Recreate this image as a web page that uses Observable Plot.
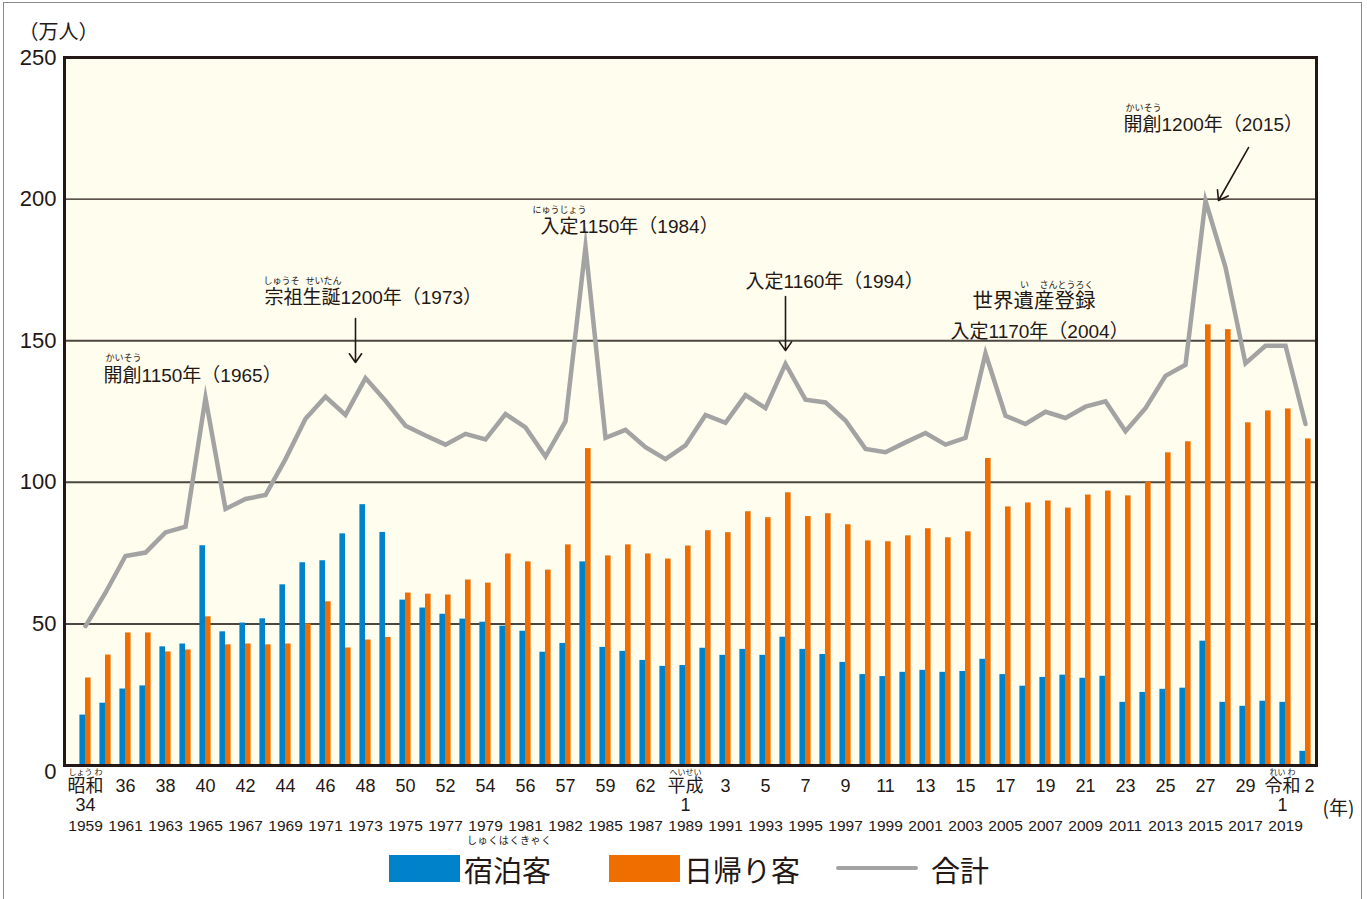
<!DOCTYPE html>
<html>
<head>
<meta charset="utf-8">
<script src="https://cdn.jsdelivr.net/npm/d3@7"></script>
<script src="https://cdn.jsdelivr.net/npm/@observablehq/plot@0.6"></script>
<style>
  html, body { margin: 0; padding: 0; background: #fff; }
  #wrap { position: relative; width: 1367px; height: 899px; overflow: hidden;
          font-family: "Liberation Sans", "Noto Sans CJK JP", sans-serif; color: #231815; }
  #border { position: absolute; left: 3px; top: 2px; width: 1359px; height: 910px; border: 1.5px solid #8a8a8a; box-sizing: border-box; pointer-events: none; }
  #chart { position: absolute; left: 0; top: 0; }
  #legend { position: absolute; left: 0; top: 840px; width: 1367px; height: 59px; }
  .sw { position: absolute; top: 15px; width: 71px; height: 27px; }
  .lt { position: absolute; top: 15px; font-size: 29px; line-height: 29px; font-family: "Noto Sans CJK JP", sans-serif; white-space: nowrap; }
  .rb { position: absolute; top: -7px; font-size: 10px; line-height: 14px; font-family: "Noto Sans CJK JP", sans-serif; letter-spacing: 0.6px; white-space: nowrap; }
</style>
</head>
<body>
<div id="wrap">
  <div id="chart"></div>
  <div id="legend"></div>
  <div id="border"></div>
</div>
<script>
// ---------------- data ----------------
const years = d3.range(1959, 2021);
// 宿泊客 (万人)
const stay = [17.8, 22.0, 27.0, 28.1, 41.9, 42.9, 77.6, 47.2, 50.3, 51.8,
              63.8, 71.6, 72.3, 81.8, 92.1, 82.3, 58.4, 55.6, 53.4, 51.7,
              50.6, 49.2, 47.4, 40.0, 43.1, 71.9, 41.7, 40.3, 37.1, 35.0,
              35.3, 41.4, 38.9, 41.0, 38.9, 45.3, 41.0, 39.2, 36.4, 32.1,
              31.4, 32.9, 33.6, 32.9, 33.2, 37.5, 32.1, 28.0, 31.1, 31.9,
              30.8, 31.5, 22.3, 25.8, 26.9, 27.3, 43.9, 22.3, 20.9, 22.7,
              22.3, 5.0];
// 日帰り客 (万人)
const day = [30.9, 39.0, 46.8, 46.8, 40.1, 40.8, 52.5, 42.6, 42.9, 42.6,
             42.9, 50.0, 57.8, 41.5, 44.3, 45.2, 60.9, 60.5, 60.2, 65.5,
             64.4, 74.7, 71.9, 69.0, 77.9, 111.9, 74.0, 77.9, 74.7, 72.9,
             77.5, 82.9, 82.2, 89.6, 87.5, 96.3, 87.9, 88.9, 85.0, 79.3,
             79.0, 81.1, 83.6, 80.4, 82.5, 108.4, 91.3, 92.7, 93.4, 90.9,
             95.5, 96.9, 95.2, 100.1, 110.4, 114.3, 155.6, 153.9, 121.0, 125.2,
             125.9, 115.3];
// 合計 (万人)
const total = [49.2, 61.0, 74.0, 75.2, 82.3, 84.3, 129.8, 90.6, 94.1, 95.5,
               108.2, 122.4, 130.2, 123.8, 136.8, 128.8, 120.0, 116.5, 113.3, 117.1,
               115.1, 124.1, 119.4, 109.1, 121.5, 183.2, 115.7, 118.5, 112.4, 108.2,
               113.0, 123.8, 121.0, 130.8, 126.2, 141.8, 129.2, 128.2, 121.8, 111.8,
               110.6, 114.1, 117.4, 113.3, 115.7, 145.5, 123.5, 120.6, 124.9, 122.7,
               126.7, 128.6, 118.0, 126.2, 137.6, 141.5, 199.4, 175.9, 142.0, 148.2,
               148.2, 120.6];

const yTicks = [50, 100, 150, 200, 250];
const tickYears = [1959, 1961, 1963, 1965, 1967, 1969, 1971, 1973, 1975, 1977, 1979, 1981,
                   1983, 1985, 1987, 1989, 1991, 1993, 1995, 1997, 1999, 2001, 2003, 2005,
                   2007, 2009, 2011, 2013, 2015, 2017, 2019, 2020];
const eraLabels = ["昭和", "36", "38", "40", "42", "44", "46", "48", "50", "52", "54", "56",
                   "57", "59", "62", "平成", "3", "5", "7", "9", "11", "13", "15", "17",
                   "19", "21", "23", "25", "27", "29", "令和", "2"];
const eraSecond = ["34", "", "", "", "", "", "", "", "", "", "", "",
                   "", "", "", "1", "", "", "", "", "", "", "", "",
                   "", "", "", "", "", "", "1", ""];
const eraRuby = ["しょう わ", "", "", "", "", "", "", "", "", "", "", "",
                 "", "", "", "へいせい", "", "", "", "", "", "", "", "",
                 "", "", "", "", "", "", "れい わ", ""];
const westLabels = ["1959", "1961", "1963", "1965", "1967", "1969", "1971", "1973", "1975", "1977", "1979", "1981",
                    "1982", "1985", "1987", "1989", "1991", "1993", "1995", "1997", "1999", "2001", "2003", "2005",
                    "2007", "2009", "2011", "2013", "2015", "2017", "2019", ""];

const eventYears = [1965, 1973, 1984, 1994, 2004, 2015];
const eventLabels = ["開創1150年（1965）", "宗祖生誕1200年（1973）", "入定1150年（1984）",
                     "入定1160年（1994）", "入定1170年（2004）", "開創1200年（2015）"];

// ---------------- build ----------------
const rows = years.map((y, i) => ({year: y, stay: stay[i], day: day[i], total: total[i]}));
const ticks = tickYears.map((y, i) => ({year: y, era: eraLabels[i], era2: eraSecond[i], ruby: eraRuby[i], west: westLabels[i]}));
const events = eventYears.map((y, i) => ({year: y, total: total[years.indexOf(y)], label: eventLabels[i]}));
const ev = y => events.filter(d => d.year === y);
const lastYear = years[years.length - 1];
const mainTicks = ticks.filter(d => d.year < lastYear - 1);
const reiwaTick = ticks.filter(d => d.year === lastYear - 1);
const endTick = ticks.filter(d => d.year === lastYear);

const BLUE = "#0082cb", ORANGE = "#ee6e00", GRAY = "#a3a3a3", INK = "#231815";
const JP = "'Liberation Sans', 'Noto Sans CJK JP', sans-serif";
const CJK = "'Noto Sans CJK JP', sans-serif";
const W = 0.28;

const annText = (y, text, dx, dy, opts = {}) => Plot.text(ev(y), {
  x: "year", y: "total", text: () => text, textAnchor: "start", lineAnchor: "middle", dx, dy,
  fontSize: 19, fill: INK, fontFamily: JP, ...opts
});
const ruby = (y, text, dx, dy) => Plot.text(ev(y), {
  x: "year", y: "total", text: () => text, textAnchor: "middle", lineAnchor: "middle", dx, dy,
  fontSize: 9, fill: INK, fontFamily: CJK
});
const xRow = (data, field, dy, opts = {}) => Plot.text(data, {
  x: "year", text: field, frameAnchor: "bottom", lineAnchor: "middle", dy, fontSize: 18, fill: INK, ...opts
});
const xRows = (data, dx) => [
  xRow(data, "ruby", 7, {fontSize: 8, fontFamily: CJK, dx}),
  xRow(data, "era", 21, {dx}),
  xRow(data, "era2", 40, {dx}),
  xRow(data, "west", 61, {fontSize: 15.5, ariaLabel: "west-year", dx: 0})
];

const chart = Plot.plot({
  width: 1367,
  height: 840,
  marginLeft: 64,
  marginRight: 51,
  marginTop: 57,
  marginBottom: 75,
  x: {domain: [1957.95, 2020.55], axis: null},
  y: {domain: [0, 250], axis: null},
  style: {fontFamily: JP, background: "transparent", color: INK},
  marks: [
    Plot.frame({fill: "#fffdee", stroke: "none"}),
    Plot.ruleY([50, 100, 150], {stroke: "#4d4641", strokeWidth: 2}),
    Plot.ruleY([200], {stroke: "#231815", strokeWidth: 1.3}),
    Plot.rectY(rows, {x1: d => d.year - W, x2: d => d.year, y: "stay", fill: BLUE}),
    Plot.rectY(rows, {x1: d => d.year, x2: d => d.year + W, y: "day", fill: ORANGE}),
    Plot.lineY(rows, {x: "year", y: "total", stroke: GRAY, strokeWidth: 4.5, strokeLinejoin: "miter", strokeMiterlimit: 12}),
    Plot.frame({stroke: INK, strokeWidth: 3}),
    // y axis
    Plot.axisY(yTicks, {tickSize: 0, tickPadding: 8, fontSize: 22, label: null, fill: INK, fontFamily: "'Liberation Sans', sans-serif"}),
    Plot.axisY([0], {tickSize: 0, tickPadding: 8, fontSize: 22, label: null, fill: INK, dy: 6, fontFamily: "'Liberation Sans', sans-serif"}),
    Plot.text(["（万人）"], {frameAnchor: "top-left", textAnchor: "start", lineAnchor: "middle", dx: -46, dy: -25, fontSize: 20, fill: INK, fontFamily: CJK}),
    Plot.text(["(年)"], {frameAnchor: "bottom-right", textAnchor: "middle", lineAnchor: "middle", dx: 22, dy: 43, fontSize: 19, fill: INK, fontFamily: CJK}),
    // x axis rows
    ...xRows(mainTicks, 0),
    ...xRows(reiwaTick, -3),
    ...xRows(endTick, 4),
    // annotations
    annText(1965, eventLabels[0], -102, -22),
    ruby(1965, "かいそう", -82, -40),
    annText(1973, eventLabels[1], -101, -80),
    ruby(1973, "しゅうそ", -84, -97),
    ruby(1973, "せいたん", -42, -97),
    Plot.arrow(ev(1973), {x1: d => d.year - 0.5, x2: d => d.year - 0.5, y1: d => d.total + 21, y2: d => d.total + 5.5,
                          stroke: INK, strokeWidth: 1.6, headLength: 10, headAngle: 70}),
    annText(1984, eventLabels[2], -45, -20),
    ruby(1984, "にゅうじょう", -26, -37),
    annText(1994, eventLabels[3], -40, -82),
    Plot.arrow(ev(1994), {x1: "year", x2: "year", y1: d => d.total + 23.8, y2: d => d.total + 4.7,
                          stroke: INK, strokeWidth: 1.6, headLength: 10, headAngle: 70}),
    annText(2004, "世界遺産登録", -13, -52, {fontSize: 20.5}),
    ruby(2004, "い", 39, -68),
    ruby(2004, "さんとうろく", 81, -68),
    annText(2004, eventLabels[4], -35, -22),
    annText(2015, eventLabels[5], -82, -76),
    ruby(2015, "かいそう", -62, -93),
    Plot.arrow(ev(2015), {x1: d => d.year + 2.15, x2: d => d.year + 0.65, y1: d => d.total + 18.8, y2: d => d.total + 0.1,
                          stroke: INK, strokeWidth: 1.6, headLength: 10, headAngle: 70})
  ]
});
// condense the western-year labels (no narrow font installed)
d3.select(chart).selectAll('g[aria-label="west-year"] text')
  .filter(function() { return this.textContent.length > 0; })
  .attr("textLength", 29).attr("lengthAdjust", "spacingAndGlyphs");
document.getElementById("chart").appendChild(chart);

// ---------------- legend ----------------
const legend = document.getElementById("legend");
legend.innerHTML = `
  <div class="sw" style="left:389px;background:${BLUE}"></div>
  <div class="rb" style="left:467px;">しゅくはくきゃく</div>
  <div class="lt" style="left:464px;">宿泊客</div>
  <div class="sw" style="left:609px;background:${ORANGE}"></div>
  <div class="lt" style="left:684px;">日帰り客</div>
  <div style="position:absolute;left:836px;top:26px;width:82px;height:4px;background:${GRAY};border-radius:2px;"></div>
  <div class="lt" style="left:931px;">合計</div>
`;
</script>
</body>
</html>
